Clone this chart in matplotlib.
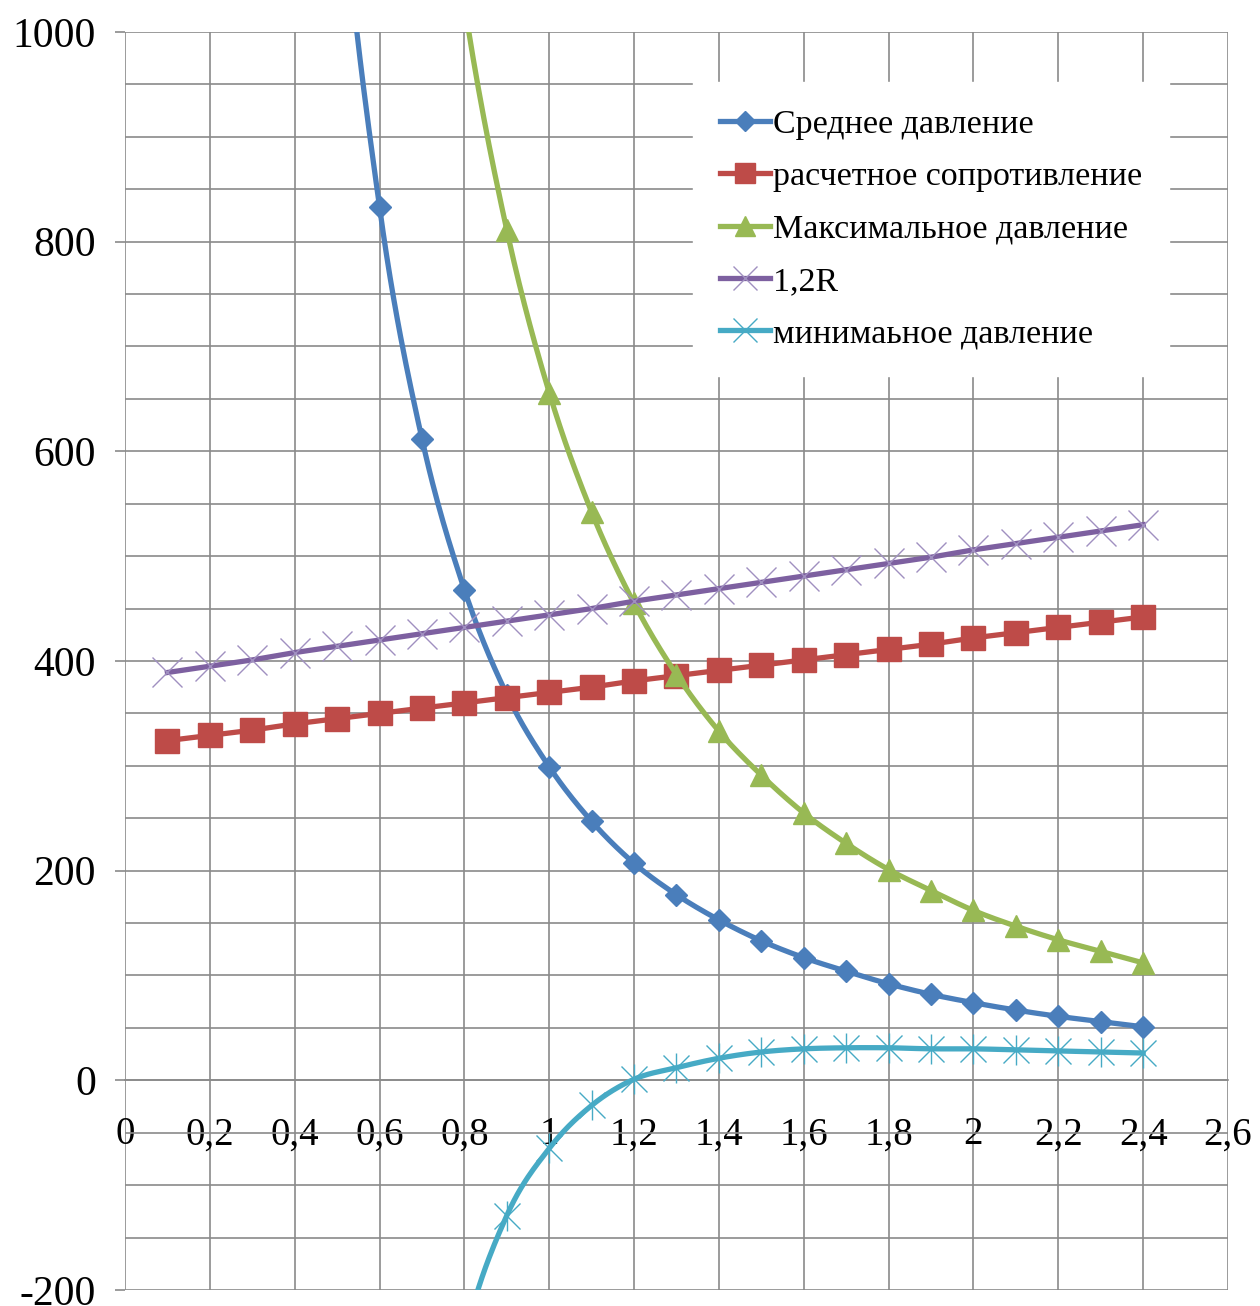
import numpy as np
import matplotlib
matplotlib.use("Agg")
import matplotlib.pyplot as plt
from matplotlib.ticker import MultipleLocator, FuncFormatter
from matplotlib.lines import Line2D

plt.rcParams['font.family'] = ['Liberation Serif', 'DejaVu Serif']
plt.rcParams['axes.unicode_minus'] = False

# ширина подошвы, м
x_all = [0.1, 0.2, 0.3, 0.4, 0.5, 0.6, 0.7, 0.8, 0.9, 1.0, 1.1, 1.2,
         1.3, 1.4, 1.5, 1.6, 1.7, 1.8, 1.9, 2.0, 2.1, 2.2, 2.3, 2.4]
x_curve = [0.4, 0.5, 0.6, 0.7, 0.8, 0.9, 1.0, 1.1, 1.2, 1.3, 1.4, 1.5,
           1.6, 1.7, 1.8, 1.9, 2.0, 2.1, 2.2, 2.3, 2.4]

p_mean = [1875, 1200, 833, 612, 468, 368, 299, 247, 207, 177, 153, 133,
          117, 104, 92, 82, 74, 67, 61, 56, 51]
p_max = [4100, 2628, 1825, 1341, 1027, 811, 656, 542, 455, 387, 333, 291,
         255, 226, 201, 181, 162, 147, 134, 123, 112]
p_min = [-3880, -1740, -866, -457, -246, -129, -65, -24, 1, 12, 21, 27,
         30, 31, 31, 30, 30, 29, 28, 27, 26]
R = [324, 329, 334, 340, 345, 350, 355, 360, 365, 370, 375, 381,
     386, 391, 396, 401, 406, 411, 416, 422, 427, 432, 437, 442]
R12 = [389, 395, 401, 408, 414, 420, 426, 432, 438, 444, 450, 457,
       463, 469, 475, 481, 487, 493, 499, 506, 512, 518, 524, 530]

labels = ["Среднее давление", "расчетное сопротивление",
          "Максимальное давление", "1,2R", "минимаьное давление"]

c_blue = '#4A7EBB'
c_red = '#BE4B48'
c_green = '#98B954'
c_purple = '#7D60A0'
c_xmark = '#A090C0'
c_cyan = '#46AAC5'


def smooth(x, y, n=25):
    # сглаживание как в Excel (Catmull-Rom)
    x = np.asarray(x, float)
    y = np.asarray(y, float)
    px = np.concatenate([[x[0]], x, [x[-1]]])
    py = np.concatenate([[y[0]], y, [y[-1]]])
    t = np.linspace(0, 1, n)
    xs, ys = [], []
    for i in range(1, len(px) - 2):
        for arr, out in ((px, xs), (py, ys)):
            p0, p1, p2, p3 = arr[i - 1], arr[i], arr[i + 1], arr[i + 2]
            c1 = p1 + (p2 - p0) / 6
            c2 = p2 - (p3 - p1) / 6
            out.append((1 - t) ** 3 * p1 + 3 * (1 - t) ** 2 * t * c1
                       + 3 * (1 - t) * t ** 2 * c2 + t ** 3 * p2)
    return np.concatenate(xs), np.concatenate(ys)


fig = plt.figure(figsize=(12.6, 13.06), dpi=100)
ax = fig.add_axes([0.0992, 0.0123, 0.8754, 0.9632])

lw = 3.8
# Среднее давление
sx, sy = smooth(x_curve, p_mean)
ax.plot(sx, sy, color=c_blue, lw=lw, zorder=3)
ax.plot(x_curve, p_mean, ls='none', marker='D', ms=11, color=c_blue, zorder=3)
# расчетное сопротивление
ax.plot(x_all, R, color=c_red, lw=lw, marker='s', ms=17, zorder=4)
# Максимальное давление
sx, sy = smooth(x_curve, p_max)
ax.plot(sx, sy, color=c_green, lw=lw, zorder=5)
ax.plot(x_curve, p_max, ls='none', marker='^', ms=16, color=c_green, zorder=5)
# 1,2R
ax.plot(x_all, R12, color=c_purple, lw=lw, zorder=6)
ax.plot(x_all, R12, ls='none', marker='x', ms=21, mew=1.0, color=c_xmark, zorder=6)
# минимальное давление
sx, sy = smooth(x_curve, p_min)
ax.plot(sx, sy, color=c_cyan, lw=lw, zorder=7)
ax.plot(x_curve, p_min, ls='none', marker='x', ms=19, mew=1.0, color=c_cyan, zorder=7)
ax.plot(x_curve, p_min, ls='none', marker='|', ms=22, mew=1.0, color=c_cyan, zorder=7)

ax.set_xlim(0, 2.6)
ax.set_ylim(-200, 1000)
ax.xaxis.set_major_locator(MultipleLocator(0.2))
ax.yaxis.set_major_locator(MultipleLocator(200))
ax.yaxis.set_minor_locator(MultipleLocator(50))
ax.xaxis.set_major_formatter(FuncFormatter(lambda v, p: ('%g' % round(v, 1)).replace('.', ',')))
ax.yaxis.set_major_formatter(FuncFormatter(lambda v, p: '%d' % round(v)))

grid_c = '#8A8A8A'
ax.grid(True, which='both', color=grid_c, lw=1.2, zorder=0)
ax.set_axisbelow(True)

for s in ['top', 'right', 'left']:
    ax.spines[s].set_visible(False)
ax.spines['bottom'].set_position(('data', 0))
ax.spines['bottom'].set_color(grid_c)
ax.spines['bottom'].set_linewidth(1.2)

ax.tick_params(axis='y', which='major', length=7, width=1.2, color=grid_c,
               labelsize=30, pad=14)
ax.tick_params(axis='y', which='minor', length=0)
ax.tick_params(axis='x', length=0, labelsize=28, pad=26)

handles = [
    Line2D([], [], color=c_blue, lw=lw, marker='D', ms=10),
    Line2D([], [], color=c_red, lw=lw, marker='s', ms=15),
    Line2D([], [], color=c_green, lw=lw, marker='^', ms=14),
    Line2D([], [], color=c_purple, lw=lw, marker='x', ms=17, mew=1.0, mec=c_xmark),
    Line2D([], [], color=c_cyan, lw=lw, marker='x', ms=17, mew=1.0),
]
leg = ax.legend(handles, labels, loc='upper left', bbox_to_anchor=(0.515, 0.9602),
                borderaxespad=0, fontsize=24.5, frameon=True, fancybox=False,
                framealpha=1, edgecolor='white', handlelength=1.47,
                handletextpad=0.08, labelspacing=0.63, borderpad=0.8)
leg.set_zorder(10)

fig.savefig("out.png", dpi=100)
